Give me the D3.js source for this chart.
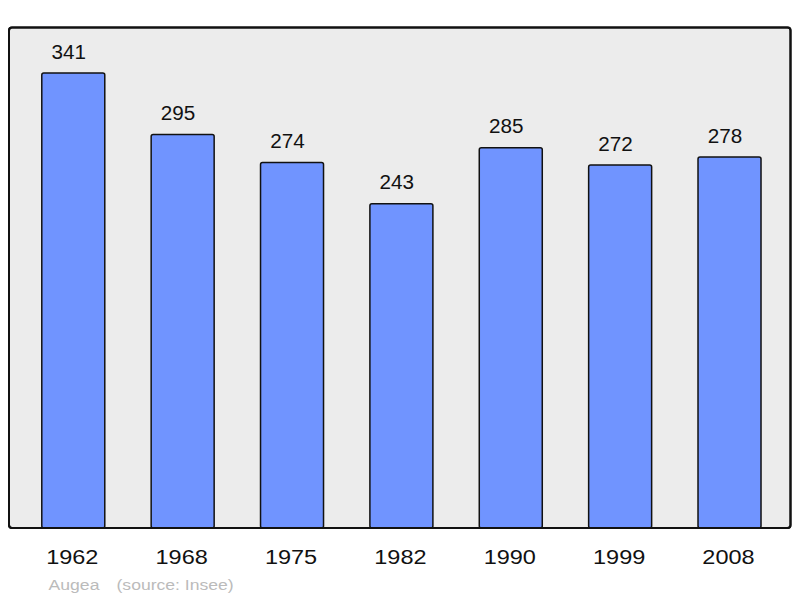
<!DOCTYPE html>
<html><head><meta charset="utf-8">
<script src="https://cdn.jsdelivr.net/npm/d3@7"></script>
<style>html,body{margin:0;padding:0;background:#fff;}svg{display:block;font-family:"Liberation Sans",Arial,sans-serif;}</style>
</head><body>
<script>
const years = ["1962","1968","1975","1982","1990","1999","2008"];
const population = [341,295,274,243,285,272,278];
const sourceText = ["Augea", "(source: Insee)"];

const W = 800, H = 598;
const panel = {x0: 9, y0: 27.5, x1: 790.5, y1: 528};
const svg = d3.select("body").append("svg").attr("width", W).attr("height", H);

svg.append("rect").attr("x", panel.x0).attr("y", panel.y0)
  .attr("width", panel.x1 - panel.x0).attr("height", panel.y1 - panel.y0)
  .attr("rx", 3).attr("fill", "#ececec").attr("stroke", "#111").attr("stroke-width", 2);

const x = d3.scaleBand().domain(years).range([18.6, 784.2]).paddingInner(0.424).paddingOuter(0.212);
const y = d3.scaleLinear().domain([0, 341 * 1.1]).range([panel.y1, panel.y0]);

const data = years.map((yr, i) => ({yr, v: population[i]}));

svg.selectAll("rect.bar").data(data).enter().append("rect").attr("class", "bar")
  .attr("x", d => x(d.yr)).attr("y", d => y(d.v))
  .attr("width", x.bandwidth()).attr("height", d => y(0) - y(d.v))
  .attr("rx", 2).attr("fill", "#7094ff").attr("stroke", "#111").attr("stroke-width", 1.5);

svg.selectAll("text.val").data(data).enter().append("text").attr("class", "val")
  .attr("transform", d => `translate(${x(d.yr) + x.bandwidth() / 2 - 4.6},${y(d.v) - 14.3}) scale(1.06,1)`)
  .attr("text-anchor", "middle").attr("font-size", 19.5).attr("fill", "#111")
  .text(d => d.v);

svg.append("rect").attr("x", panel.x0).attr("y", panel.y0)
  .attr("width", panel.x1 - panel.x0).attr("height", panel.y1 - panel.y0)
  .attr("rx", 3).attr("fill", "none").attr("stroke", "#111").attr("stroke-width", 2);

const xAxis = d3.axisBottom(x).tickSize(0).tickPadding(0);
const gx = svg.append("g").attr("transform", `translate(0,${panel.y1})`).call(xAxis);
gx.select(".domain").remove();
gx.selectAll("text").attr("font-size", 21).attr("fill", "#111")
  .attr("font-family", "Liberation Sans, Arial, sans-serif")
  .attr("dy", null).attr("y", null)
  .attr("transform", "translate(-1,36) scale(1.12,1)");

svg.append("text").attr("transform", "translate(48.6,590) scale(1.15,1)").attr("font-size", 15.3).attr("fill", "#bbb").text(sourceText[0]);
svg.append("text").attr("transform", "translate(116.5,590) scale(1.15,1)").attr("font-size", 15.3).attr("fill", "#bbb").text(sourceText[1]);
</script>
</body></html>
